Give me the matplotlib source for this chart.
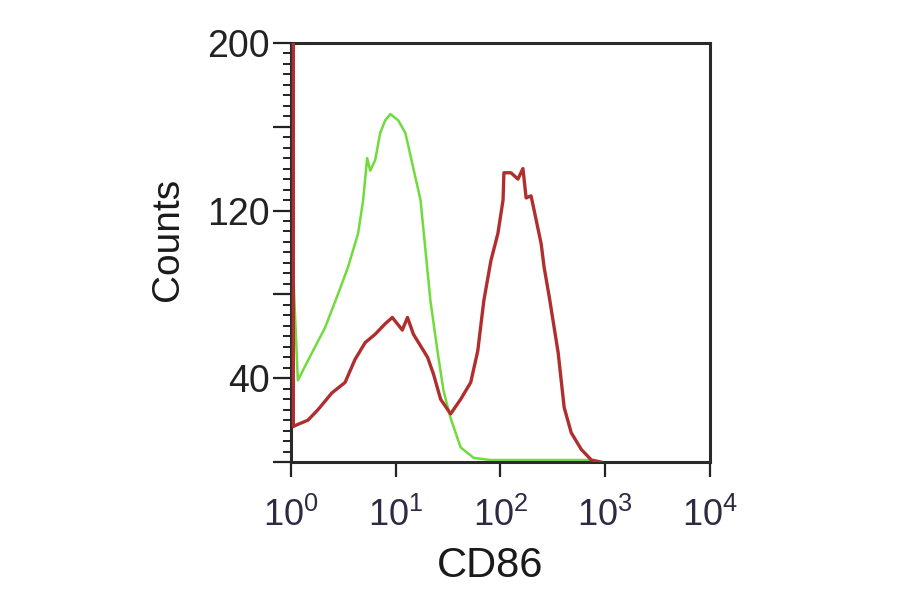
import math
import matplotlib
matplotlib.use('Agg')
import matplotlib.pyplot as plt
from matplotlib import font_manager
from matplotlib.ticker import FixedLocator, MultipleLocator, LogLocator, NullFormatter, FuncFormatter

# CD86 intensity (linear units, plotted on log axis) and counts
green_x = [1.0, 1.17, 1.59, 2.12, 2.82, 3.52, 4.39, 4.91, 5.36, 5.73, 6.39, 7.14, 7.97, 8.91,
           10.6, 12.4, 14.5, 17.3, 19.3, 21.5, 25.1, 28.7, 33.5, 41.8, 55.7, 81, 157, 380, 690, 720]
green_counts = [118, 39, 52, 64, 80, 93, 109, 125, 145, 139, 144, 157, 163, 166,
                163, 157, 142, 125, 101, 77, 53, 34, 21, 7, 2, 1, 1, 1, 1, 0]

red_x = [1.0, 1.06, 1.06, 1.17, 1.46, 1.82, 2.47, 3.30, 4.11, 5.13, 6.39, 7.97, 9.31, 11.6, 13.0,
         14.8, 20.2, 23.0, 26.9, 33.5, 41.8, 52.1, 60.8, 69.5, 81.1, 94.6, 106, 108, 126,
         147, 164, 176, 196, 210, 245, 261, 292, 326, 356, 380, 406, 474, 592, 738, 920]
red_counts = [260, 260, 17, 18, 20, 25, 33, 38, 49, 57, 61, 66, 69, 63, 69,
              61, 50, 42, 30, 23, 30, 38, 53, 77, 96, 109, 125, 138, 138,
              135, 140, 126, 127, 120, 104, 93, 79, 64, 52, 39, 26, 14, 6, 1, 0]

y_ticks_major = [0, 40, 80, 120, 160, 200]
y_tick_labels = {40: '40', 120: '120', 200: '200'}
x_decades = [0, 1, 2, 3, 4]

installed = {f.name for f in font_manager.fontManager.ttflist}
font = 'Liberation Sans Narrow' if 'Liberation Sans Narrow' in installed else 'Liberation Sans'
plt.rcParams['font.family'] = [font, 'DejaVu Sans']
plt.rcParams['mathtext.fontset'] = 'custom'
plt.rcParams['mathtext.rm'] = font
plt.rcParams['mathtext.it'] = font

fig = plt.figure(figsize=(9, 5.94), dpi=100)
ax = fig.add_axes([0.323, 0.222, 0.466, 0.706])

ax.plot(green_x, green_counts, color='#6fdc3c', lw=1.8, zorder=2)
ax.plot(red_x, red_counts, color='#b02e2e', lw=2.4, zorder=3)

ax.set_xscale('log')
ax.set_xlim(1, 1e4)
ax.set_ylim(0, 200)

# y ticks: majors every 40, labels only on some
ax.yaxis.set_major_locator(FixedLocator(y_ticks_major))
ax.yaxis.set_major_formatter(FuncFormatter(lambda v, p: y_tick_labels.get(int(round(v)), '')))
ax.yaxis.set_minor_locator(MultipleLocator(5))

ax.xaxis.set_major_locator(FixedLocator([10 ** d for d in x_decades]))
ax.xaxis.set_major_formatter(FuncFormatter(lambda v, p: r'$\mathregular{10^{%d}}$' % round(math.log10(v))))
ax.xaxis.set_minor_locator(LogLocator(base=10, subs=range(2, 10)))
ax.xaxis.set_minor_formatter(NullFormatter())

ax.tick_params(axis='y', which='major', direction='out', length=13, width=1.6, labelsize=27, pad=2, colors='#222222')
ax.tick_params(axis='y', which='minor', direction='out', length=6, width=1.4, colors='#222222')
ax.tick_params(axis='x', which='major', direction='out', length=11, width=1.6, labelsize=26, pad=15,
               colors='#222222', labelcolor='#2f2a44')
ax.tick_params(axis='x', which='minor', direction='out', length=4, width=1.3, colors='#222222')

for spine in ax.spines.values():
    spine.set_linewidth(2.2)
    spine.set_color('#2a2a2a')

ax.set_ylabel('Counts', fontsize=28, color='#1a1a1a')
ax.yaxis.set_label_coords(-0.25, 0.53)
ax.set_xlabel('CD86', fontsize=30, color='#1a1a1a')
ax.xaxis.set_label_coords(0.475, -0.2)

fig.savefig('out.png', dpi=100)
